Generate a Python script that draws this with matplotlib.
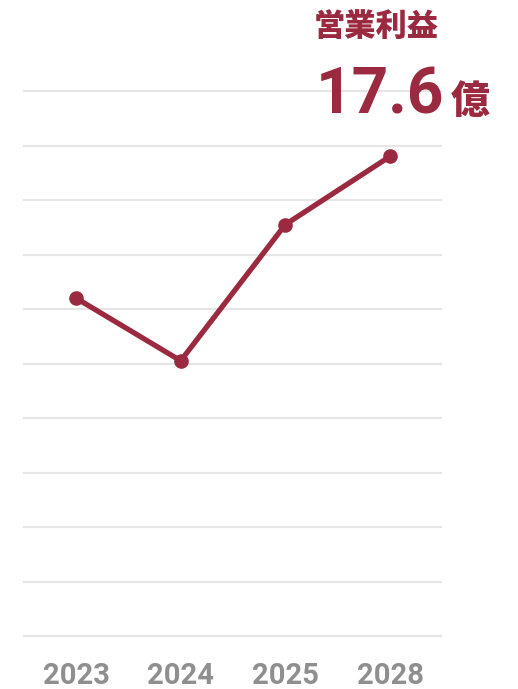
import numpy as np
import matplotlib
matplotlib.use("Agg")
import matplotlib.pyplot as plt

# 営業利益 (億円)
years = ["2023", "2024", "2025", "2028"]
profit = [12.4, 10.1, 15.1, 17.6]
grid_levels = list(range(0, 21, 2))

RED = "#9b2a40"
GRAY = "#8f8f8f"

fig = plt.figure(figsize=(5.18, 6.89), dpi=100)
ax = fig.add_axes([24 / 518, 53 / 689, 417 / 518, 545 / 689])

for g in grid_levels:
    ax.axhline(g, color="#e6e6e6", lw=1.6, zorder=0, clip_on=False)

x = np.arange(len(years))
ax.plot(x, profit, color=RED, lw=3.8, marker="o", ms=9.5,
        solid_capstyle="round", clip_on=False, zorder=3)

ax.set_ylim(0, 20)
ax.set_xlim(-0.497, 3.487)
ax.set_xticks(x)
ax.set_xticklabels(years, fontsize=21, fontweight="bold", color=GRAY,
                   family=["Roboto", "DejaVu Sans"])
ax.tick_params(axis="x", length=0, pad=19)
ax.set_yticks([])
for s in ax.spines.values():
    s.set_visible(False)

# latest value callout
fig.text(376 / 518, 1 - 26 / 689, "営業利益", ha="center", va="center",
         fontsize=22.5, fontweight="heavy", color=RED,
         family=["Noto Sans CJK JP", "DejaVu Sans"])
fig.text(316 / 518, 1 - 113 / 689, f"{profit[-1]}", ha="left", va="baseline",
         fontsize=46, fontweight="bold", color=RED,
         family=["Roboto", "DejaVu Sans"])
fig.text(490 / 518, 1 - 113 / 689, "億", ha="right", va="baseline",
         fontsize=28, fontweight="heavy", color=RED,
         family=["Noto Sans CJK JP", "DejaVu Sans"])

fig.savefig("out.png", dpi=100)
